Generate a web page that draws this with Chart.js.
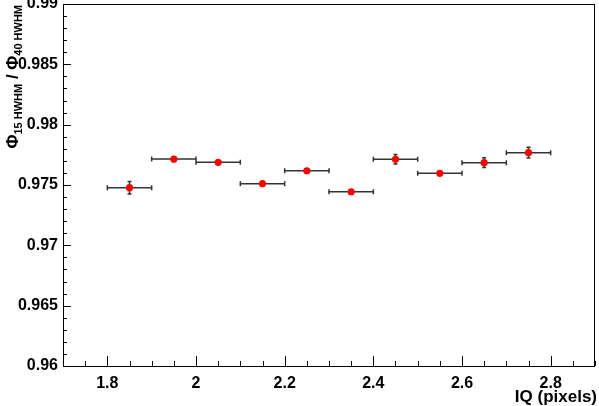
<!DOCTYPE html>
<html>
<head>
<meta charset="utf-8">
<script src="https://cdn.jsdelivr.net/npm/chart.js@4/dist/chart.umd.min.js"></script>
<style>
  html, body { margin: 0; padding: 0; background: #fff; }
  #wrap { width: 599px; height: 406px; }
</style>
</head>
<body>
<div id="wrap"><canvas id="ratioChart"></canvas></div>
<script>
// IQ bins (centres) and half-widths
const iqValues = [1.85, 1.95, 2.05, 2.15, 2.25, 2.35, 2.45, 2.55, 2.65, 2.75];
const iqErrors = [0.05, 0.05, 0.05, 0.05, 0.05, 0.05, 0.05, 0.05, 0.05, 0.05];
// Phi15 HWHM / Phi40 HWHM
const ratioValues = [0.97478, 0.97715, 0.97688, 0.97511, 0.97618, 0.97444, 0.97713, 0.97597, 0.97685, 0.97768];
const ratioErrors = [0.00052, 0.0002, 0.00015, 0.0001, 0.0001, 0.0001, 0.0004, 0.0001, 0.0004, 0.00045];

const xMin = 1.7, xMax = 2.9, xStep = 0.05, xMajor = 0.2;
const yMin = 0.96, yMax = 0.99, yStep = 0.001, yMajor = 0.005;

const FONT = "'Liberation Sans', Arial, sans-serif";

function isMajor(v, major) {
    const r = v / major;
    return Math.abs(r - Math.round(r)) < 1e-6;
}

// ROOT-like frame with inward ticks
const framePlugin = {
    id: 'frame',
    afterDraw(chart) {
        const ctx = chart.ctx;
        const a = chart.chartArea;
        const xs = chart.scales.x, ys = chart.scales.y;
        ctx.save();
        ctx.strokeStyle = '#000';
        ctx.lineWidth = 1;
        ctx.strokeRect(Math.round(a.left) + 0.5, Math.round(a.top) + 0.5,
            Math.round(a.right - a.left) - 1, Math.round(a.bottom - a.top));
        ctx.beginPath();
        xs.ticks.forEach(t => {
            const px = Math.round(xs.getPixelForValue(t.value)) + 0.5;
            const len = isMajor(t.value, xMajor) ? 10 : 5;
            ctx.moveTo(px, a.bottom);
            ctx.lineTo(px, a.bottom - len);
        });
        ys.ticks.forEach(t => {
            const py = Math.round(ys.getPixelForValue(t.value)) + 0.5;
            const len = isMajor(t.value, yMajor) ? 8 : 4;
            ctx.moveTo(a.left, py);
            ctx.lineTo(a.left + len, py);
        });
        ctx.stroke();

        // axis titles
        ctx.fillStyle = '#000';
        ctx.font = 'bold 17px ' + FONT;
        ctx.textAlign = 'right';
        ctx.textBaseline = 'alphabetic';
        ctx.fillText('IQ (pixels)', chart.width - 2, 402);

        // y title with subscripts, rotated, aligned to the top
        ctx.translate(18, 5);
        ctx.rotate(-Math.PI / 2);
        const parts = [
            ['Φ', 'bold 17px ', 0],
            ['15 HWHM', 'bold 11px ', 4],
            [' / ', 'bold 17px ', 0],
            ['Φ', 'bold 17px ', 0],
            ['40 HWHM', 'bold 11px ', 4]
        ];
        let total = 0;
        parts.forEach(p => { ctx.font = p[1] + FONT; total += ctx.measureText(p[0]).width; });
        let x = -total;
        ctx.textAlign = 'left';
        parts.forEach(p => {
            ctx.font = p[1] + FONT;
            ctx.fillText(p[0], x, p[2]);
            x += ctx.measureText(p[0]).width;
        });
        ctx.restore();
    }
};

// horizontal and vertical error bars
const errorBarPlugin = {
    id: 'errorBars',
    beforeDatasetsDraw(chart) {
        const ctx = chart.ctx;
        const xs = chart.scales.x, ys = chart.scales.y;
        ctx.save();
        ctx.strokeStyle = '#333';
        ctx.lineWidth = 1.5;
        ctx.beginPath();
        iqValues.forEach((xv, i) => {
            const yv = ratioValues[i];
            const py = ys.getPixelForValue(yv);
            const x0 = xs.getPixelForValue(xv - iqErrors[i]);
            const x1 = xs.getPixelForValue(xv + iqErrors[i]);
            ctx.moveTo(x0, py); ctx.lineTo(x1, py);
            ctx.moveTo(x0, py - 2.5); ctx.lineTo(x0, py + 2.5);
            ctx.moveTo(x1, py - 2.5); ctx.lineTo(x1, py + 2.5);
            const px = xs.getPixelForValue(xv);
            const y0 = ys.getPixelForValue(yv - ratioErrors[i]);
            const y1 = ys.getPixelForValue(yv + ratioErrors[i]);
            ctx.moveTo(px, y0); ctx.lineTo(px, y1);
            ctx.moveTo(px - 2, y0); ctx.lineTo(px + 2, y0);
            ctx.moveTo(px - 2, y1); ctx.lineTo(px + 2, y1);
        });
        ctx.stroke();
        ctx.restore();
    }
};

new Chart(document.getElementById('ratioChart'), {
    type: 'scatter',
    data: {
        datasets: [{
            data: iqValues.map((x, i) => ({ x: x, y: ratioValues[i] })),
            backgroundColor: '#ff0000',
            borderColor: '#ff0000',
            borderWidth: 0,
            pointRadius: 3.6
        }]
    },
    options: {
        responsive: true,
        maintainAspectRatio: false,
        animation: false,
        layout: { padding: { top: 4, right: 2, left: 0, bottom: 0 } },
        plugins: {
            legend: { display: false },
            tooltip: { enabled: false }
        },
        scales: {
            x: {
                type: 'linear',
                min: xMin,
                max: xMax,
                border: { display: false },
                grid: { display: false, drawTicks: false },
                afterFit: s => {
                    s.height = 40;
                    s.paddingLeft = 0; s.paddingRight = 0;
                    s.paddingTop = 0; s.paddingBottom = 0;
                },
                ticks: {
                    stepSize: xStep,
                    autoSkip: false,
                    maxRotation: 0,
                    padding: 8,
                    color: '#000',
                    font: { family: FONT, size: 16, weight: 'bold' },
                    callback: v => isMajor(v, xMajor) ? String(parseFloat(v.toFixed(2))) : ''
                }
            },
            y: {
                min: yMin,
                max: yMax,
                border: { display: false },
                grid: { display: false, drawTicks: false },
                afterFit: s => {
                    s.width = 63;
                    s.paddingLeft = 0; s.paddingRight = 0;
                    s.paddingTop = 0; s.paddingBottom = 0;
                },
                ticks: {
                    stepSize: yStep,
                    autoSkip: false,
                    padding: 5,
                    color: '#000',
                    font: { family: FONT, size: 16, weight: 'bold' },
                    callback: v => isMajor(v, yMajor) ? String(parseFloat(v.toFixed(3))) : ''
                }
            }
        }
    },
    plugins: [errorBarPlugin, framePlugin]
});
</script>
</body>
</html>
